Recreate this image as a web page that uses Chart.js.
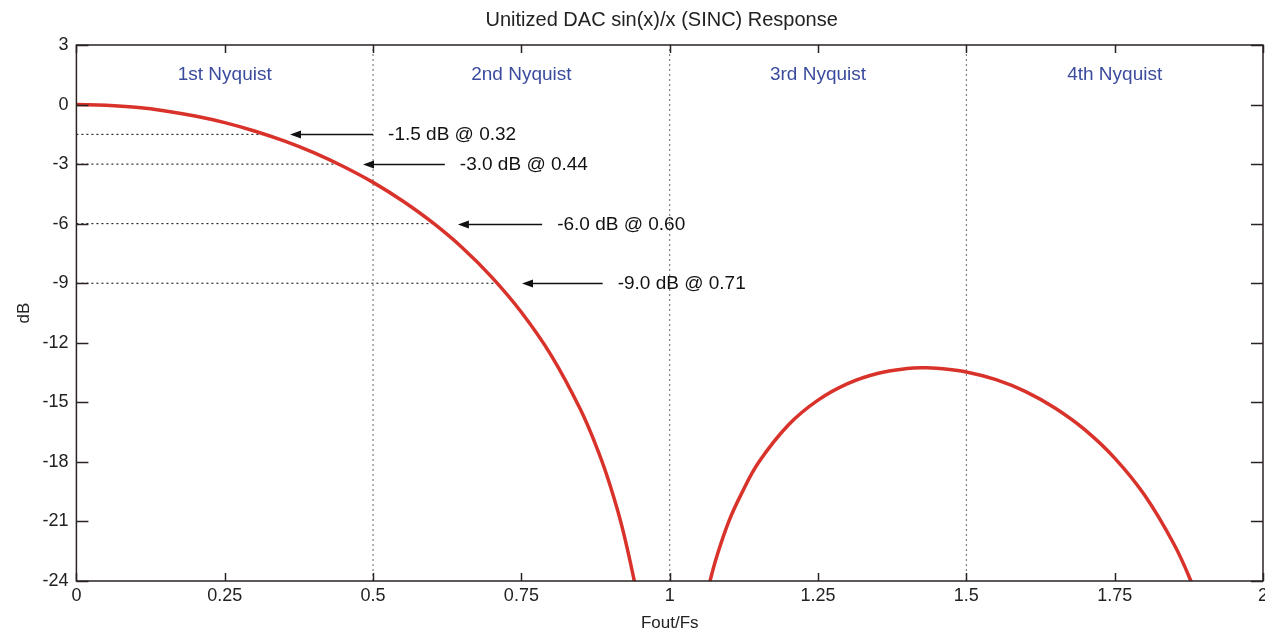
<!DOCTYPE html>
<html>
<head>
<meta charset="utf-8">
<script src="https://cdn.jsdelivr.net/npm/chart.js@4.4.1/dist/chart.umd.min.js"></script>
<style>
  html, body { margin: 0; padding: 0; background: #fff; overflow: hidden; }
  #wrap { width: 1272px; height: 634px; position: relative; }
</style>
</head>
<body>
<div id="wrap"><canvas id="sinc"></canvas></div>
<script>
// ---- data ----
const lobe1X = [0, 0.05, 0.10, 0.15, 0.20, 0.25, 0.30, 0.35, 0.40, 0.45, 0.50, 0.55, 0.60, 0.65, 0.70, 0.75, 0.80, 0.85, 0.88, 0.90, 0.92, 0.94, 0.95, 0.97];
const lobe1Db = [0, -0.04, -0.14, -0.32, -0.58, -0.91, -1.33, -1.83, -2.42, -3.12, -3.92, -4.86, -5.94, -7.20, -8.69, -10.46, -12.62, -15.39, -17.51, -19.23, -21.31, -23.95, -25.6, -30.2];

const lobe2X = [1.03, 1.05, 1.06, 1.07, 1.08, 1.10, 1.12, 1.15, 1.20, 1.25, 1.30, 1.35, 1.40, 1.43, 1.45, 1.50, 1.55, 1.60, 1.65, 1.70, 1.75, 1.80, 1.85, 1.88, 1.90, 1.95];
const lobe2Db = [-30.7, -26.48, -25.0, -23.76, -22.70, -20.97, -19.66, -18.02, -16.14, -14.89, -14.06, -13.55, -13.30, -13.26, -13.28, -13.47, -13.86, -14.46, -15.30, -16.39, -17.81, -19.66, -22.15, -24.11, -25.7, -31.9];

const xTickLabels = ['0', '0.25', '0.5', '0.75', '1', '1.25', '1.5', '1.75', '2'];
const yTickLabels = ['-24', '-21', '-18', '-15', '-12', '-9', '-6', '-3', '0', '3'];

const zoneCenters = [0.25, 0.75, 1.25, 1.75];
const zoneNames = ['1st Nyquist', '2nd Nyquist', '3rd Nyquist', '4th Nyquist'];
const zoneEdges = [0.5, 1.0, 1.5];

const markerFreq = [0.32, 0.44, 0.60, 0.71];
const markerDb = [-1.5, -3.0, -6.0, -9.0];
const arrowTipX = [0.36, 0.483, 0.643, 0.751];
const arrowTailX = [0.50, 0.621, 0.785, 0.887];
const markerText = ['-1.5 dB @ 0.32', '-3.0 dB @ 0.44', '-6.0 dB @ 0.60', '-9.0 dB @ 0.71'];

const TITLE = 'Unitized DAC sin(x)/x (SINC) Response';
const FONT = 'Liberation Sans, Arial, sans-serif';
const CURVE = '#d8322b';
const ZONE_BLUE = '#3b4c9e';

function pts(xs, ys) { return xs.map((x, i) => ({ x, y: ys[i] })); }

const datasets = [
    { data: pts(lobe1X, lobe1Db), borderColor: CURVE, borderWidth: 3.5, pointRadius: 0, showLine: true, tension: 0.4 },
    { data: pts(lobe2X, lobe2Db), borderColor: CURVE, borderWidth: 3.5, pointRadius: 0, showLine: true, tension: 0.4 },
];
// dotted level lines from the axis to the marked point
markerDb.forEach((db, i) => datasets.push({
    data: [{ x: 0, y: db }, { x: markerFreq[i], y: db }],
    borderColor: '#000', borderWidth: 1, borderDash: [2, 3], pointRadius: 0, showLine: true,
}));
// dotted Nyquist zone boundaries
zoneEdges.forEach(x => datasets.push({
    data: [{ x, y: -24 }, { x, y: 3 }],
    borderColor: '#666', borderWidth: 1, borderDash: [2, 3], pointRadius: 0, showLine: true,
}));

/* title, frame, inward ticks, zone names and arrows */
const decorations = {
    id: 'decorations',
    afterDatasetsDraw(chart) {
        const { ctx, chartArea: a, scales: { x, y } } = chart;
        ctx.save();

        // title (MATLAB centres it a little left of the box middle here)
        ctx.fillStyle = '#222';
        ctx.font = '20px ' + FONT;
        ctx.textAlign = 'center';
        ctx.textBaseline = 'middle';
        ctx.fillText(TITLE, (a.left + a.right) / 2 - 8, 20);

        // box + inward tick marks on all four sides
        ctx.strokeStyle = '#2a2222';
        ctx.lineWidth = 1.5;
        ctx.strokeRect(a.left, a.top, a.right - a.left, a.bottom - a.top);
        ctx.beginPath();
        x.ticks.forEach(t => {
            const px = Math.round(x.getPixelForValue(t.value)) + 0.5;
            ctx.moveTo(px, a.bottom); ctx.lineTo(px, a.bottom - 8);
            ctx.moveTo(px, a.top); ctx.lineTo(px, a.top + 8);
        });
        y.ticks.forEach(t => {
            const py = Math.round(y.getPixelForValue(t.value)) + 0.5;
            ctx.moveTo(a.left, py); ctx.lineTo(a.left + 12, py);
            ctx.moveTo(a.right, py); ctx.lineTo(a.right - 12, py);
        });
        ctx.stroke();

        // zone names
        ctx.fillStyle = ZONE_BLUE;
        ctx.font = '19px ' + FONT;
        zoneNames.forEach((n, i) => ctx.fillText(n, x.getPixelForValue(zoneCenters[i]), a.top + 30));

        // arrows with labels
        ctx.strokeStyle = '#111';
        ctx.fillStyle = '#111';
        ctx.lineWidth = 1.5;
        ctx.textAlign = 'left';
        markerDb.forEach((db, i) => {
            const py = Math.round(y.getPixelForValue(db)) + 0.5;
            const tip = x.getPixelForValue(arrowTipX[i]);
            const tail = x.getPixelForValue(arrowTailX[i]);
            ctx.beginPath();
            ctx.moveTo(tail, py); ctx.lineTo(tip + 8, py);
            ctx.stroke();
            ctx.beginPath();
            ctx.moveTo(tip, py); ctx.lineTo(tip + 11, py - 4); ctx.lineTo(tip + 11, py + 4);
            ctx.closePath();
            ctx.fill();
            ctx.fillText(markerText[i], tail + 15, py);
        });
        ctx.restore();
    },
};

new Chart(document.getElementById('sinc'), {
    type: 'scatter',
    data: { datasets },
    plugins: [decorations],
    options: {
        responsive: true,
        maintainAspectRatio: false,
        animation: false,
        layout: { autoPadding: false, padding: { left: 14, right: 9, top: 45, bottom: 0 } },
        plugins: {
            legend: { display: false },
            tooltip: { enabled: false },
            title: { display: false },
        },
        scales: {
            x: {
                type: 'linear',
                min: 0, max: 2,
                grid: { display: false, drawTicks: false },
                border: { display: false },
                ticks: {
                    stepSize: 0.25,
                    padding: 4,
                    color: '#222',
                    font: { family: FONT, size: 18 },
                    maxRotation: 0,
                    callback: (v, i) => xTickLabels[i],
                },
                title: { display: true, text: 'Fout/Fs', color: '#222', font: { family: FONT, size: 17 }, padding: { top: 3, bottom: 0 } },
            },
            y: {
                type: 'linear',
                min: -24, max: 3,
                grid: { display: false, drawTicks: false },
                border: { display: false },
                ticks: {
                    stepSize: 3,
                    padding: 8,
                    color: '#222',
                    font: { family: FONT, size: 18 },
                    callback: (v, i) => yTickLabels[i],
                },
                title: { display: true, text: 'dB', color: '#222', font: { family: FONT, size: 17 }, padding: { top: 0, bottom: 0 } },
            },
        },
    },
});
</script>
</body>
</html>
